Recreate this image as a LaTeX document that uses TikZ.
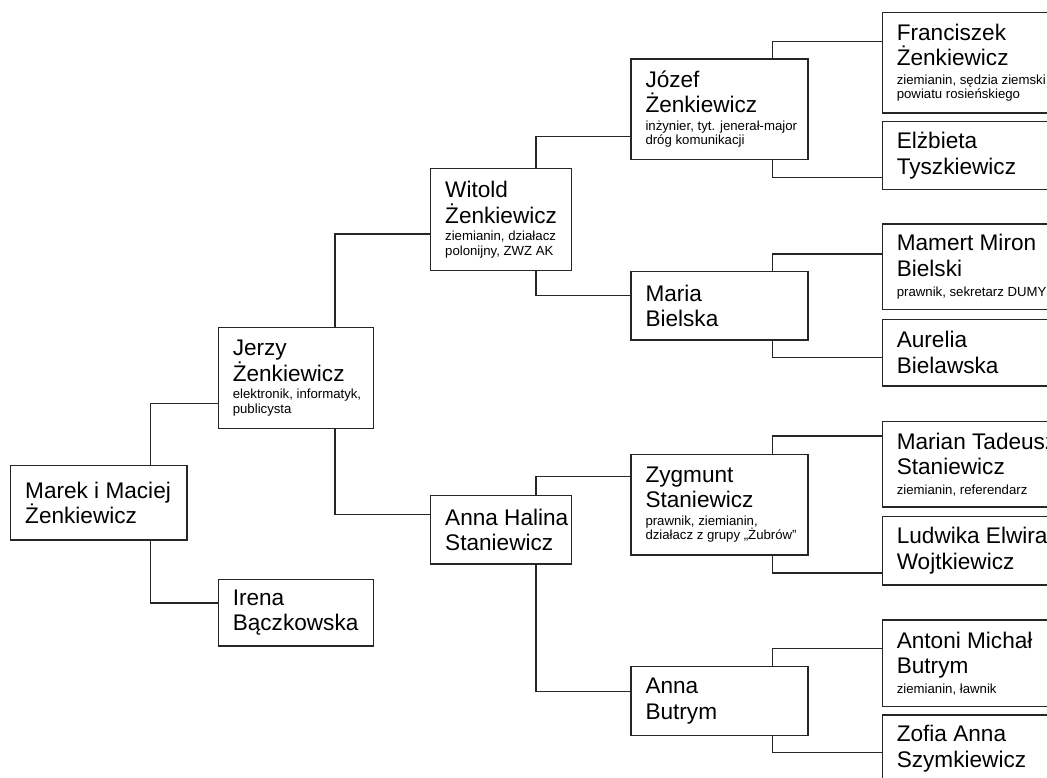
\documentclass[tikz,border=0pt]{standalone}
\usepackage{fontspec}
\setmainfont{Liberation Sans}

% name lines and description lines of one person
\newcommand\nm[1]{{\leftskip=14.5pt\spaceskip=0pt\xspaceskip=0pt\fontsize{22.6pt}{25.5pt}\selectfont #1\par}}
\newcommand\ds[2][3.4pt]{{\vspace{#1}\leftskip=14.5pt\spaceskip=0pt\xspaceskip=0pt\fontsize{13.2pt}{14.3pt}\selectfont #2\par}}

\tikzset{
    person/.style={draw=black!85, line width=1.4pt, anchor=north west, align=left,
        inner xsep=0pt, inner ysep=0pt, outer sep=0pt},
    genzero/.style={person, text width=176.3pt},
    genone/.style={person, text width=155pt},
    gentwo/.style={person, text width=141pt},
    genthree/.style={person, text width=177pt},
    genfour/.style={person, text width=200pt},
    link/.style={draw=black!85, line width=1.4pt}
}

\begin{document}
\begin{tikzpicture}[x=1pt, y=-1pt]

    \useasboundingbox (0,0) rectangle (1047,778);
    \clip (0,0) rectangle (1047,778);

    % children
    \node[genzero, minimum height=74.3pt] (marek) at (10.7,465.7) {\nm{Marek i Maciej\\Żenkiewicz}};

    % parents
    \node[genone, minimum height=101.3pt] (jerzy) at (218.3,327.3) {\nm{Jerzy\\Żenkiewicz}\ds{elektronik, informatyk,\\publicysta}};
    \node[genone, minimum height=66.7pt] (irena) at (218.3,579.3) {\nm{Irena\\Bączkowska}};

    % grandparents
    \node[gentwo, minimum height=102pt] (witold) at (430.7,168.7) {\nm{Witold\\Żenkiewicz}\ds{ziemianin, działacz\\polonijny, ZWZ AK}};
    \node[gentwo, minimum height=68.3pt] (annahalina) at (430.7,495.7) {\nm{Anna Halina\\Staniewicz}};

    % great-grandparents
    \node[genthree, minimum height=100.3pt] (jozef) at (631,59) {\nm{Józef\\Żenkiewicz}\ds{inżynier, tyt. jenerał-major\\dróg komunikacji}};
    \node[genthree, minimum height=68.3pt] (maria) at (631,271.7) {\nm{Maria\\Bielska}};
    \node[genthree, minimum height=100.7pt] (zygmunt) at (631,454.3) {\nm{Zygmunt\\Staniewicz}\ds{prawnik, ziemianin,\\działacz z grupy „Żubrów''}};
    \node[genthree, minimum height=69pt] (annabutrym) at (631,666.7) {\nm{Anna\\Butrym}};

    % great-great-grandparents
    \node[genfour, minimum height=100.3pt] (franciszek) at (882.3,12.7) {\nm{Franciszek\\Żenkiewicz}\ds[4.5pt]{ziemianin, sędzia ziemski\\powiatu rosieńskiego}};
    \node[genfour, minimum height=67.6pt] (elzbieta) at (882.3,121.7) {\nm{Elżbieta\\Tyszkiewicz}};
    \node[genfour, minimum height=85.3pt] (mamert) at (882.3,224) {\nm{Mamert Miron\\Bielski}\ds[5.5pt]{prawnik, sekretarz DUMY}};
    \node[genfour, minimum height=66.7pt] (aurelia) at (882.3,319.3) {\nm{Aurelia\\Bielawska}};
    \node[genfour, minimum height=85.3pt] (marian) at (882.3,421.7) {\nm{Marian Tadeusz\\Staniewicz}\ds[5.5pt]{ziemianin, referendarz}};
    \node[genfour, minimum height=68.3pt] (ludwika) at (882.3,516.7) {\nm{Ludwika Elwira\\Wojtkiewicz}};
    \node[genfour, minimum height=86.7pt] (antoni) at (882.3,620) {\nm{Antoni Michał\\Butrym}\ds[5pt]{ziemianin, ławnik}};
    \node[genfour, minimum height=67pt] (zofia) at (882.3,715) {\nm{Zofia Anna\\Szymkiewicz}};

    % links
    \draw[link] ([xshift=140pt]marek.north west) |- ([yshift=-76pt]jerzy.north west);
    \draw[link] ([xshift=140pt]marek.south west) |- ([yshift=-23.7pt]irena.north west);

    \draw[link] ([xshift=116.7pt]jerzy.north west) |- ([yshift=-65.3pt]witold.north west);
    \draw[link] ([xshift=116.7pt]jerzy.south west) |- ([yshift=-18.6pt]annahalina.north west);

    \draw[link] ([xshift=105.3pt]witold.north west) |- ([yshift=-77.7pt]jozef.north west);
    \draw[link] ([xshift=105.3pt]witold.south west) |- ([yshift=-24pt]maria.north west);
    \draw[link] ([xshift=105.3pt]annahalina.north west) |- ([yshift=-22.4pt]zygmunt.north west);
    \draw[link] ([xshift=105.3pt]annahalina.south west) |- ([yshift=-25pt]annabutrym.north west);

    \draw[link] ([xshift=141.7pt]jozef.north west) |- ([yshift=-29pt]franciszek.north west);
    \draw[link] ([xshift=141.7pt]jozef.south west) |- ([yshift=-55.6pt]elzbieta.north west);
    \draw[link] ([xshift=141.7pt]maria.north west) |- ([yshift=-30pt]mamert.north west);
    \draw[link] ([xshift=141.7pt]maria.south west) |- ([yshift=-38pt]aurelia.north west);
    \draw[link] ([xshift=141.7pt]zygmunt.north west) |- ([yshift=-14.3pt]marian.north west);
    \draw[link] ([xshift=141.7pt]zygmunt.south west) |- ([yshift=-56.3pt]ludwika.north west);
    \draw[link] ([xshift=141.7pt]annabutrym.north west) |- ([yshift=-28.3pt]antoni.north west);
    \draw[link] ([xshift=141.7pt]annabutrym.south west) |- ([yshift=-37.3pt]zofia.north west);

\end{tikzpicture}
\end{document}
